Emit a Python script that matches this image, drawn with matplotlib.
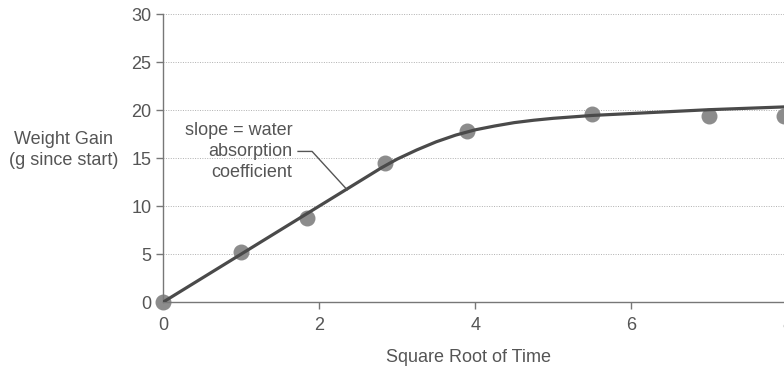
import matplotlib
matplotlib.use('Agg')
import matplotlib.pyplot as plt

plt.rcParams['font.family'] = ['Liberation Sans', 'DejaVu Sans']

# measured points (sqrt time, weight gain in g)
sqrt_time = [0, 1.0, 1.85, 2.85, 3.9, 5.5, 7.0, 7.96]
weight_gain = [0, 5.2, 8.8, 14.5, 17.8, 19.6, 19.4, 19.4]

# fitted curve
curve_x = [0, 0.5, 1.0, 1.5, 2.0, 2.5, 2.8, 3.0, 3.25, 3.5, 3.75, 4.0, 4.25, 4.5,
           4.75, 5.0, 5.5, 6.0, 6.5, 7.0, 7.5, 8.0, 8.3]
curve_y = [0, 2.5, 5.0, 7.5, 10.0, 12.5, 14.0, 14.9, 15.85, 16.7, 17.4, 17.95, 18.35,
           18.7, 18.95, 19.15, 19.45, 19.65, 19.85, 20.05, 20.2, 20.35, 20.4]

x_ticks = [0, 2, 4, 6, 8]
y_ticks = [0, 5, 10, 15, 20, 25, 30]

text_col = '#555555'
axis_col = '#777777'

fig = plt.figure(figsize=(7.84, 3.73), dpi=100)
ax = fig.add_axes([0.208, 0.19, 0.826, 0.772])

ax.plot(curve_x, curve_y, color='#4a4a4a', lw=2.3, zorder=3,
        solid_capstyle='round', solid_joinstyle='round')
ax.scatter(sqrt_time, weight_gain, s=110, color='#8c8c8c', zorder=2, clip_on=False)

ax.set_xlim(0, 8.3)
ax.set_ylim(0, 30)
ax.set_xticks(x_ticks)
ax.set_yticks(y_ticks)

for y in y_ticks[1:]:
    ax.axhline(y, color='#b0b0b0', lw=0.7, ls=(0, (1, 1.5)), zorder=1)

for s in ['top', 'right']:
    ax.spines[s].set_visible(False)
for s in ['left', 'bottom']:
    ax.spines[s].set_color(axis_col)
    ax.spines[s].set_linewidth(1.0)
ax.tick_params(colors=axis_col, labelcolor=text_col, labelsize=13, length=5, width=1)
ax.tick_params(axis='x', pad=6)

# annotation with leader line
ax.text(1.66, 15.7, 'slope = water\nabsorption\ncoefficient', ha='right', va='center',
        fontsize=13, color=text_col, linespacing=1.32)
ax.plot([1.73, 1.91, 2.36], [15.7, 15.7, 11.7], color='#555555', lw=1.0, zorder=4)

fig.text(64 / 784, 1 - 150 / 373, 'Weight Gain\n(g since start)', ha='center', va='center',
         fontsize=13, color=text_col, linespacing=1.3)
fig.text(468 / 784, 1 - 358 / 373, 'Square Root of Time', ha='center', va='center',
         fontsize=13, color=text_col)

fig.savefig('out.png', dpi=100)
